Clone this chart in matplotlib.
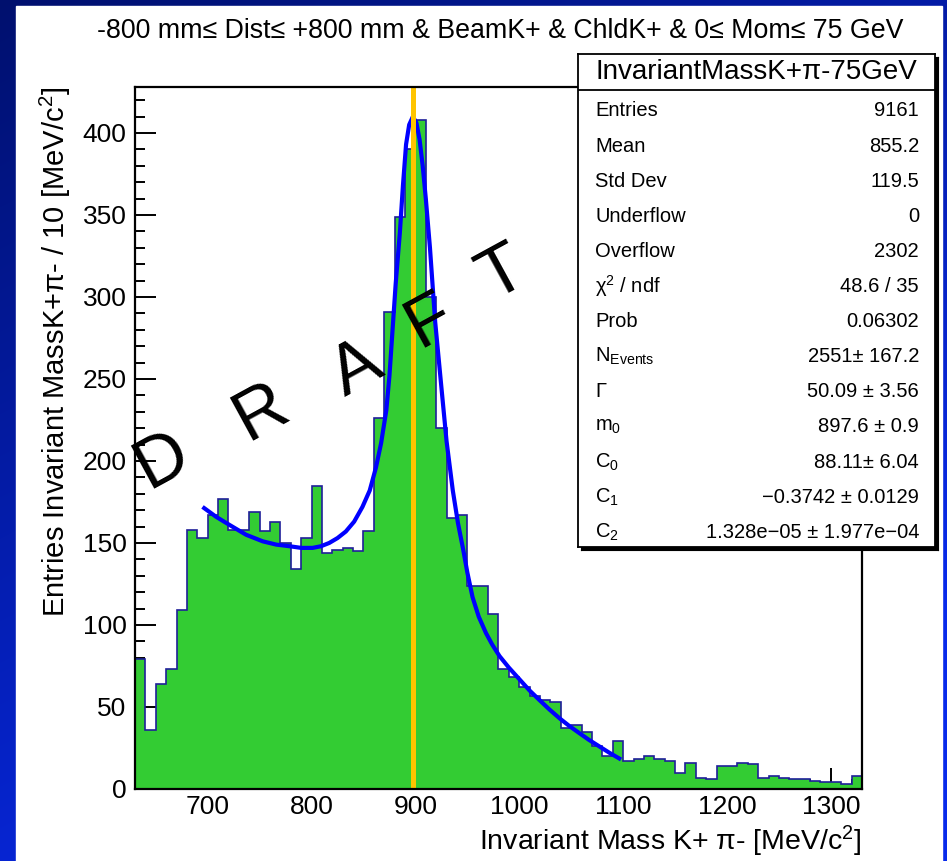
import numpy as np
import matplotlib
matplotlib.use('Agg')
import matplotlib.pyplot as plt
from matplotlib.patches import Rectangle

plt.rcParams['font.family'] = ['Liberation Sans', 'DejaVu Sans']
plt.rcParams['mathtext.fontset'] = 'custom'
plt.rcParams['mathtext.rm'] = 'Liberation Sans'
plt.rcParams['mathtext.it'] = 'Liberation Sans:italic'
plt.rcParams['mathtext.bf'] = 'Liberation Sans:bold'

# ---------------- data ----------------
x_min, x_max, n_bins = 630, 1330, 70
counts = [79, 36, 64, 73, 109, 158, 153, 167, 177, 158,
          158, 169, 157, 163, 150, 134, 153, 185, 144, 146,
          147, 145, 157, 226, 291, 349, 390, 408, 300, 220,
          165, 167, 124, 124, 107, 73, 68, 62, 57, 54,
          53, 37, 39, 35, 26, 20, 29, 17, 18, 20,
          18, 17, 10, 16, 7, 6, 14, 14, 16, 15,
          7, 8, 7, 6, 6, 5, 4, 4, 3, 8]

fit_x = [695, 708, 721, 737, 753, 766, 779, 790, 801, 809, 817, 825, 833, 841,
         849, 856, 862, 867, 872, 875, 878, 881, 885, 888, 891, 894, 897.6,
         901, 904, 907, 910, 914, 919, 925, 930, 936, 941, 946, 950, 955,
         961, 968, 974, 981, 990, 1000, 1010, 1019, 1029, 1039, 1048, 1058,
         1067, 1077, 1087, 1098]
fit_y = [172, 166, 161, 155, 151, 149, 148, 147, 147, 148, 150, 153, 157, 163,
         172, 182, 196, 211, 231, 252, 280, 308, 339, 368, 393, 405, 410,
         406, 396, 380, 360, 330, 285, 245, 212, 182, 162, 146, 132, 117,
         105, 95, 88, 81, 74, 67, 60, 54.5, 48.5, 43, 38.5, 34,
         30, 26, 22, 18]

m0 = 897.6

title = "-800 mm\u2264 Dist\u2264 +800 mm & BeamK+ & ChldK+ & 0\u2264 Mom\u2264 75 GeV"
xlabel = "Invariant Mass K+ \u03c0- [MeV/c$^{2}$]"
ylabel = "Entries Invariant MassK+\u03c0- / 10 [MeV/c$^{2}$]"
stat_title = "InvariantMassK+\u03c0-75GeV"
stat_labels = ["Entries", "Mean", "Std Dev", "Underflow", "Overflow",
               "\u03c7$^{2}$ / ndf", "Prob", "N$_{\\mathregular{Events}}$",
               "\u0393", "m$_{0}$", "C$_{0}$", "C$_{1}$", "C$_{2}$"]
stat_values = ["9161", "855.2", "119.5", "0", "2302", "48.6 / 35", "0.06302",
               "2551\u00b1 167.2", "50.09 \u00b1 3.56", "897.6 \u00b1 0.9",
               "88.11\u00b1 6.04", "\u22120.3742 \u00b1 0.0129",
               "1.328e\u221205 \u00b1 1.977e\u221204"]
draft_letters = ["D", "R", "A", "F", "T"]

# ---------------- figure ----------------
W, H = 947, 861
fig = plt.figure(figsize=(W / 100, H / 100), dpi=100)

# blue gradient frame
bg = fig.add_axes([0, 0, 1, 1], zorder=-10)
yy, xx = np.mgrid[0:H, 0:W]
t = np.clip(0.8 * yy / H + 0.45 * xx / W, 0, 1)
c0 = np.array([0, 16, 110]) / 255
c1 = np.array([8, 42, 235]) / 255
img = c0 + (c1 - c0) * t[..., None]
bg.imshow(img, extent=[0, W, H, 0], aspect='auto')
bg.add_patch(Rectangle((16, 6), 926, H - 6, color='white'))
bg.set_xlim(0, W)
bg.set_ylim(H, 0)
bg.axis('off')

# main axes
L, R, T, B = 135, 862, 87, 789
ax = fig.add_axes([L / W, 1 - B / H, (R - L) / W, (B - T) / H], zorder=1)
ax.set_facecolor('white')
edges = np.linspace(x_min, x_max, n_bins + 1)
ax.stairs(counts, edges, fill=True, color='#33cc33', zorder=2)
ax.stairs(counts, edges, fill=False, color='#1f1f99', lw=1.2, zorder=3)
ax.plot(fit_x, fit_y, color='#0000ff', lw=3.0, zorder=4, solid_capstyle='butt')
ax.axvline(m0, color='#ffc400', lw=3.6, zorder=5)

ax.set_xlim(x_min, x_max)
ax.set_ylim(0, 428)
ax.set_xticks(np.arange(700, 1301, 100))
ax.set_xticks(np.arange(640, 1330, 20), minor=True)
ax.set_yticks(np.arange(0, 401, 50))
ax.set_yticks(np.arange(0, 428, 10), minor=True)
ax.tick_params(which='both', direction='in', top=False, right=False,
               width=1.4, labelsize=19)
ax.tick_params(which='major', length=15, pad=6)
ax.tick_params(axis='x', which='major', pad=4)
ax.tick_params(which='minor', length=7.5)
for s in ax.spines.values():
    s.set_linewidth(1.6)
    s.set_zorder(6)

ax.set_xlabel(xlabel, fontsize=20.5, loc='right')
ax.xaxis.set_label_coords(1.0, -0.074)
ax.xaxis.label.set_va('center')
ax.set_ylabel(ylabel, fontsize=21, loc='top')
ax.yaxis.set_label_coords(-0.085, 1.0)

# DRAFT watermark
draft_pos = [(162, 461), (261, 413), (357, 370), (430, 322), (503, 275)]
for ch, (px, py) in zip(draft_letters, draft_pos):
    fig.text(px / W, 1 - py / H, ch, fontsize=51, rotation=28.6,
             rotation_mode='anchor', ha='center', va='center', color='black',
             zorder=20)

# title
fig.text(500 / W, 1 - 31 / H, title, fontsize=19.3, ha='center', va='center')

# stats box
bx0, bx1, by0, by1 = 578, 935, 54, 547
shadow = fig.add_axes([(bx0 + 3) / W, 1 - (by1 + 3) / H, (bx1 - bx0) / W,
                       (by1 - by0) / H], zorder=9)
shadow.set_facecolor('black')
shadow.set_xticks([]); shadow.set_yticks([])
sb = fig.add_axes([bx0 / W, 1 - by1 / H, (bx1 - bx0) / W, (by1 - by0) / H],
                  zorder=10)
sb.set_xlim(bx0, bx1)
sb.set_ylim(by1, by0)
sb.set_xticks([]); sb.set_yticks([])
sb.set_facecolor('white')
for s in sb.spines.values():
    s.set_linewidth(1.3)
sb.axhline(90, color='black', lw=1.3)
sb.text((bx0 + bx1) / 2, 72, stat_title, fontsize=20, ha='center', va='center')
row0, dy = 111, 35.1
for i, (lab, val) in enumerate(zip(stat_labels, stat_values)):
    yy_ = row0 + i * dy
    sb.text(595, yy_, lab, fontsize=14.5, ha='left', va='center')
    sb.text(919, yy_, val, fontsize=14.5, ha='right', va='center')

fig.savefig('out.png', dpi=100)
